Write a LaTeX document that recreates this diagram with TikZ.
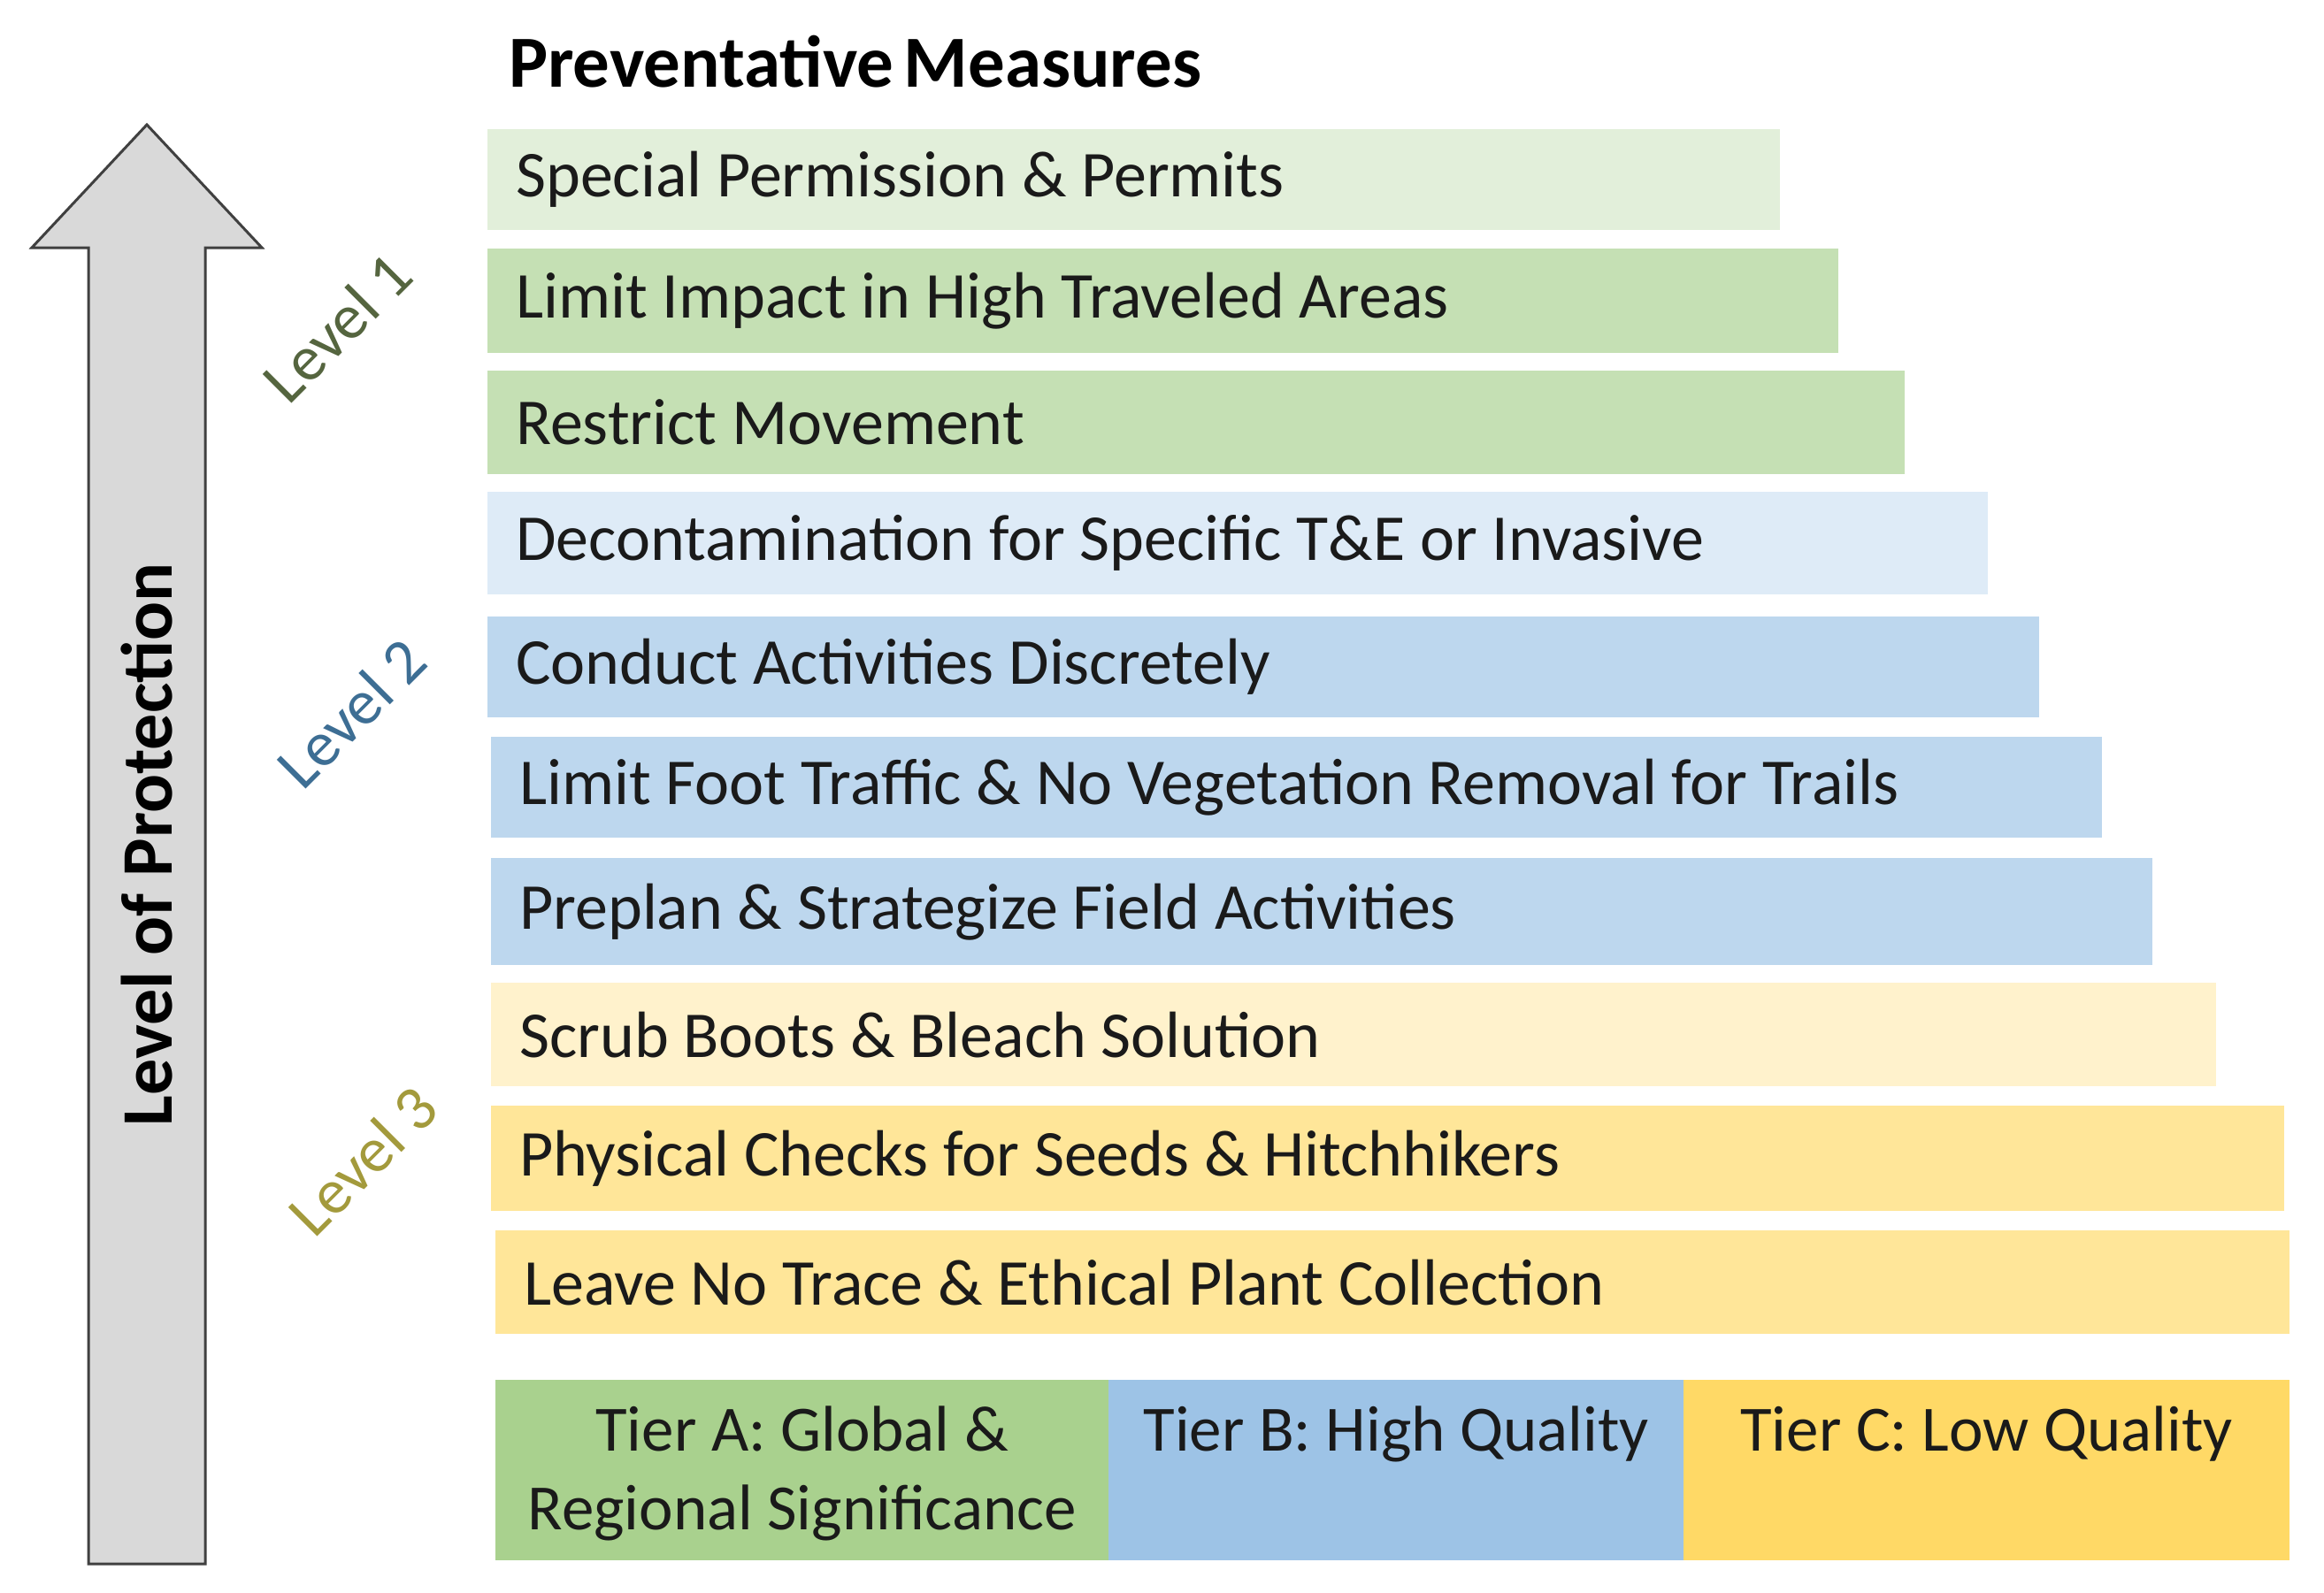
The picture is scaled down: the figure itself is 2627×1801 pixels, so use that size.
\documentclass[tikz,border=0pt]{standalone}
\usepackage{fontspec}
\setmainfont{Carlito}
\definecolor{gA}{HTML}{E2EFDA}
\definecolor{gB}{HTML}{C5E0B4}
\definecolor{bA}{HTML}{DEEBF7}
\definecolor{bB}{HTML}{BDD7EE}
\definecolor{yA}{HTML}{FFF2CC}
\definecolor{yB}{HTML}{FFE699}
\definecolor{tA}{HTML}{A9D18E}
\definecolor{tB}{HTML}{9DC3E6}
\definecolor{tC}{HTML}{FFD966}
\definecolor{arrfill}{HTML}{D9D9D9}
\definecolor{arrline}{HTML}{404040}
\definecolor{lvA}{HTML}{55653F}
\definecolor{lvB}{HTML}{3D6E94}
\definecolor{lvC}{HTML}{A39A3C}
\definecolor{txt}{HTML}{1A1A1A}
\newcommand{\tightsp}{\spaceskip=0.14em plus 0.05em\relax}
\newcommand{\natsp}{\spaceskip=0pt\xspaceskip=0pt\relax}
\tikzset{
  barbox/.style={draw=none, anchor=north west, inner xsep=32pt, inner ysep=0pt,
    align=left, font=\fontsize{74}{84}\selectfont, text=txt},
  tierbox/.style={anchor=north, inner sep=0pt, align=center,
    font=\fontsize{73}{89}\selectfont, text=txt},
  tierfill/.style={anchor=north west, minimum height=204, inner sep=0pt},
  lvl/.style={rotate=45, font=\fontsize{72}{80}\selectfont, inner sep=0pt}
}
\newcommand{\barnode}[7]{% name, x1, y1, x2, y2, colour, text
  \node[barbox, fill=#6, minimum width={#4-#2}, minimum height={#5-#3},
        text width={#4-#2-64}] (#1) at (#2,#3) {\natsp #7};}
\begin{document}
\begin{tikzpicture}[x=1pt,y=-1pt]
\useasboundingbox (0,0) rectangle (2627,1801);
\fill[white] (0,0) rectangle (2627,1801);
% title
\node[anchor=west, inner sep=0pt, font=\fontsize{83}{90}\selectfont\bfseries\tightsp] (title) at (575,70) {Preventative Measures};
% arrow
\draw[fill=arrfill, draw=arrline, line width=3pt, line join=miter]
  (100,1768) -- (100,280) -- (36,280) -- (166,141) -- (296,280) -- (232,280) -- (232,1768) -- cycle;
\node[rotate=90, inner sep=0pt, font=\fontsize{82}{90}\selectfont\bfseries] (lop) at (166,955) {Level of Protection};
% level labels
\node[lvl, text=lvA] (l1) at (381,370) {Level 1};
\node[lvl, text=lvB] (l2) at (397,806) {Level 2};
\node[lvl, text=lvC] (l3) at (410,1312) {Level 3};
% bars
\barnode{b1}{551}{146}{2012}{260}{gA}{Special Permission \& Permits}
\barnode{b2}{551}{281}{2078}{399}{gB}{Limit Impact in High Traveled Areas}
\barnode{b3}{551}{419}{2153}{536}{gB}{Restrict Movement}
\barnode{b4}{551}{556}{2247}{672}{bA}{Decontamination for Specific T\&E or Invasive}
\barnode{b5}{551}{697}{2305}{811}{bB}{Conduct Activities Discretely}
\barnode{b6}{555}{833}{2376}{947}{bB}{Limit Foot Traffic \& No Vegetation Removal for Trails}
\barnode{b7}{555}{970}{2433}{1091}{bB}{Preplan \& Strategize Field Activities}
\barnode{b8}{555}{1111}{2505}{1228}{yA}{Scrub Boots \& Bleach Solution}
\barnode{b9}{555}{1250}{2582}{1369}{yB}{Physical Checks for Seeds \& Hitchhikers}
\barnode{b10}{560}{1391}{2588}{1508}{yB}{Leave No Trace \& Ethical Plant Collection}
% tiers
\node[tierfill, fill=tA, minimum width=693] (ta) at (560,1560) {};
\node[tierfill, fill=tB, minimum width=650] (tb) at (1253,1560) {};
\node[tierfill, fill=tC, minimum width=685] (tc) at (1903,1560) {};
\node[tierbox] (tat) at ([yshift=-30pt]ta.north) {\natsp Tier A: Global \&\\Regional Significance};
\node[tierbox] (tbt) at ([yshift=-30pt]tb.north) {\natsp Tier B: High Quality};
\node[tierbox] (tct) at ([yshift=-30pt]tc.north) {\natsp Tier C: Low Quality};
\end{tikzpicture}
\end{document}
